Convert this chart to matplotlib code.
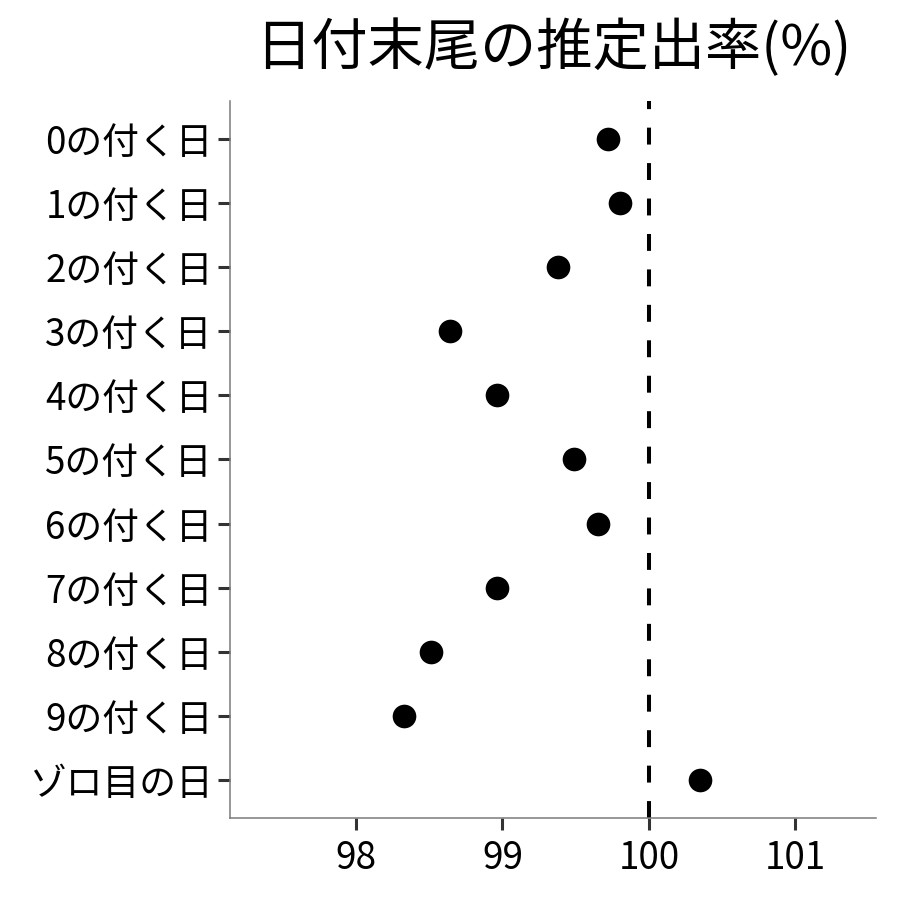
import matplotlib
matplotlib.use("Agg")
import matplotlib.pyplot as plt

plt.rcParams['font.family'] = ['Noto Sans CJK JP', 'DejaVu Sans']

categories = ["0の付く日", "1の付く日", "2の付く日", "3の付く日", "4の付く日",
              "5の付く日", "6の付く日", "7の付く日", "8の付く日", "9の付く日",
              "ゾロ目の日"]
values = [99.72, 99.80, 99.38, 98.64, 98.96, 99.49, 99.65, 98.96, 98.51, 98.33, 100.35]
xticks = [98, 99, 100, 101]
title = "日付末尾の推定出率(%)"

fig = plt.figure(figsize=(9, 9), dpi=100)
ax = fig.add_axes([0.2556, 0.0911, 0.7177, 0.7967])

ypos = list(range(len(categories)))
ax.scatter(values, ypos, s=290, color='black', zorder=3, linewidths=0)
ax.axvline(100, color='black', lw=2.9, linestyle=(0, (4.2, 4.6)), zorder=2)

ax.set_xlim(97.14, 101.55)
ax.set_ylim(len(categories) - 1 + 0.59, -0.59)
ax.set_yticks(ypos)
ax.set_yticklabels(categories)
ax.set_xticks(xticks)
ax.set_xticklabels([str(t) for t in xticks])

for s in ['top', 'right']:
    ax.spines[s].set_visible(False)
for s in ['left', 'bottom']:
    ax.spines[s].set_color('#7a7a7a')
    ax.spines[s].set_linewidth(1.1)

ax.tick_params(axis='y', length=8.4, width=2.2, color='#333333',
               labelsize=26.5, labelcolor='black', pad=4)
ax.tick_params(axis='x', length=8.4, width=2.2, color='#333333',
               labelsize=26.5, labelcolor='black', pad=7)
ax.set_title(title, fontsize=40.5, pad=26)

fig.savefig("out.png", dpi=100)
